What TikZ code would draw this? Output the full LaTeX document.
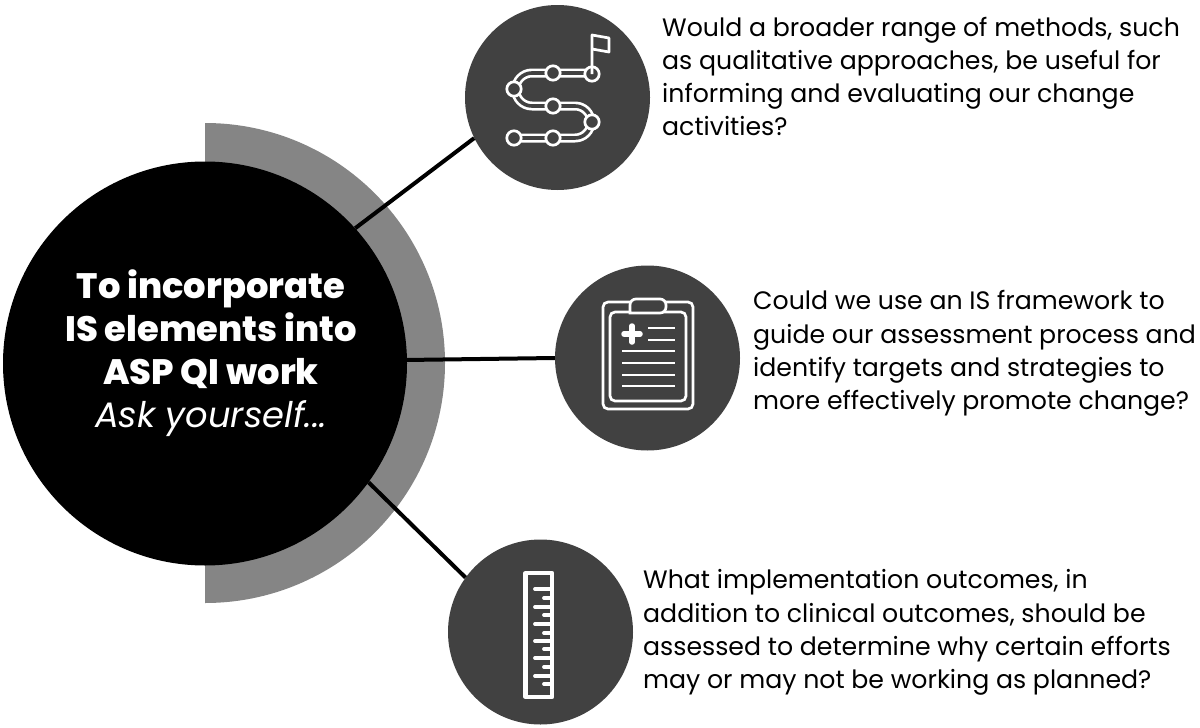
\documentclass[tikz,border=0pt]{standalone}
\usepackage{fontspec}
\setmainfont{Poppins}
\newfontfamily\heavyfont{Poppins ExtraBold}
\usepackage{xcolor}
\definecolor{BubbleGray}{HTML}{414141}
\definecolor{RingGray}{HTML}{858585}
\tikzset{
  bubble/.style={circle, fill=BubbleGray, minimum size=185pt, inner sep=0pt},
  spoke/.style={black, line width=4pt},
  icon/.style={white, line width=2.7pt},
  question/.style={anchor=west, align=left, inner sep=0pt, font=\fontsize{25.2}{33.3}\selectfont}
}

\begin{document}
\begin{tikzpicture}[x=1pt, y=-1pt]
\useasboundingbox (0,0) rectangle (1200,728);
\fill[RingGray] (205,123) arc (-90:90:240) -- cycle;
\node[circle, fill=black, minimum size=404pt, inner sep=0pt] (hub) at (205,363.5) {};
\node[white, align=center, inner sep=0pt, font=\fontsize{35.3}{43}\selectfont] (hubtext) at (211,353) {{\heavyfont To incorporate}\\{\heavyfont IS elements into}\\{\heavyfont ASP QI work}\\\textit{Ask yourself...}};

\node[bubble] (route) at (557.5,97.5) {};
\node[bubble] (chart) at (647.5,358) {};
\node[bubble] (ruler) at (540.5,632) {};

\draw[spoke] (hub.42) -- (route.206);
\draw[spoke] (hub.1.5) -- (chart.west);
\draw[spoke] (hub.-36) -- (ruler.144);

% road icon
\draw[icon, double=BubbleGray, double distance=3.6pt] (592,73) -- (532,73) arc (-90:-270:16.5) -- (575,106) arc (-90:90:16) -- (514,138);
\foreach \x/\y in {592/74, 553/73, 514/89, 553/106, 592/122, 553/138, 514/138}
  \draw[icon, fill=BubbleGray] (\x,\y) circle (7.2);
\draw[icon, line join=round] (592,74) -- (592,35) -- (609,38) -- (609,52) -- (592,49);

% clipboard icon
\draw[icon, rounded corners=5pt] (603,302) rectangle (693,409);
\draw[icon, rounded corners=5pt] (610,312) rectangle (686,401);
\draw[icon, fill=BubbleGray, rounded corners=6pt] (630,313) -- (630,299) -- (666,299) -- (666,313) [sharp corners] -- cycle;
\draw[white, line width=5.5pt, line cap=round] (624,334) -- (640,334) (632,326) -- (632,342);
\draw[icon] (648,328) -- (675,328) (648,340) -- (675,340);
\draw[icon] (622,351) -- (675,351) (622,363) -- (675,363) (622,375) -- (675,375) (622,386) -- (675,386);

% ruler icon
\draw[white, line width=4.2pt, line join=round] (525.5,573) rectangle (552,697);
\foreach \y in {589,607,624,641,658,676}
  \draw[white, line width=3.8pt, line cap=round] (535,\y) -- (551,\y);
\foreach \y in {598,615,633,649,667,684}
  \draw[white, line width=3.8pt, line cap=round] (544,\y) -- (551,\y);

\node[question] (routetext) at (662,76.5) {Would a broader range of methods, such\\as qualitative approaches, be useful for\\informing and evaluating our change\\activities?};
\node[question] (charttext) at (753,353.5) {Could we use an IS framework to\\guide our assessment process and\\identify targets and strategies to\\more effectively promote change?};
\node[question] (rulertext) at (643,632.5) {What implementation outcomes, in\\addition to clinical outcomes, should be\\assessed to determine why certain efforts\\may or may not be working as planned?};
\end{tikzpicture}
\end{document}
